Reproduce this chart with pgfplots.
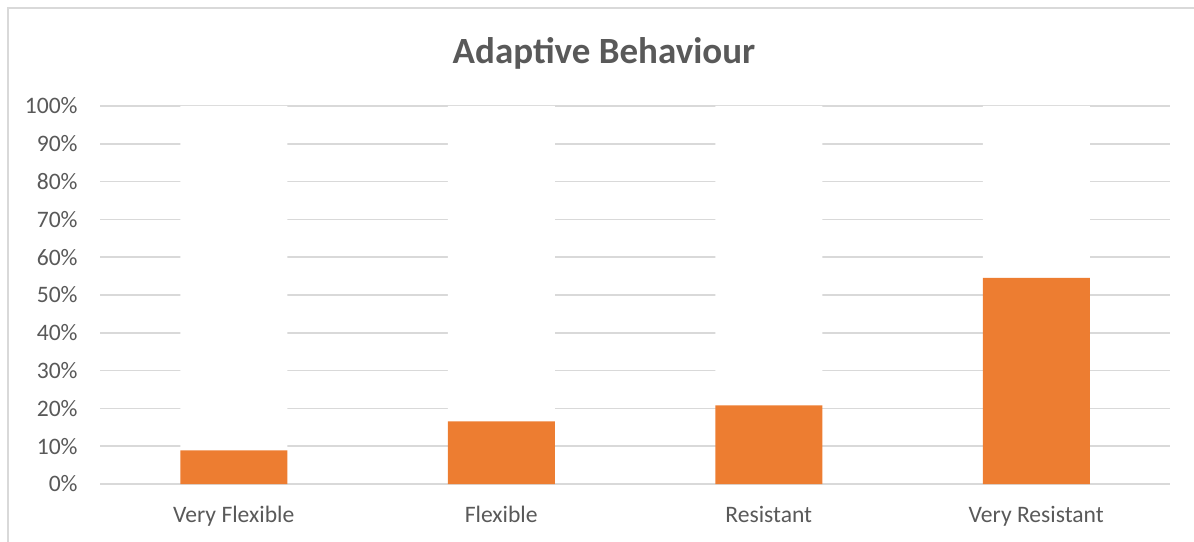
\documentclass[border=0pt]{standalone}
\usepackage{pgfplots}
\pgfplotsset{compat=1.18}
\usepackage{fontspec}
\setmainfont{Carlito}
\definecolor{barorange}{HTML}{ED7D31}
\definecolor{txtgray}{HTML}{595959}
\definecolor{gridgray}{HTML}{D9D9D9}
\begin{document}
\begin{tikzpicture}
\useasboundingbox (0,0) rectangle (597bp,271bp);
\draw[gridgray, line width=0.8bp] (4bp,-10bp) rectangle (610bp,267bp);
\node[anchor=base, text=txtgray, font=\fontsize{18.5bp}{22bp}\selectfont\bfseries] at (302bp,239.2bp) {Adaptive Behaviour};
\begin{axis}[
  at={(50bp,29bp)}, anchor=south west,
  scale only axis, width=535bp, height=189bp,
  xmin=-0.5, xmax=3.5, ymin=0, ymax=100,
  ybar stacked, bar width=53.5bp,
  axis x line=bottom, axis y line=left,
  x axis line style={gridgray, line width=0.8bp, -},
  y axis line style={draw=none},
  xtick={0,1,2,3},
  xticklabels={Very Flexible, Flexible, Resistant, Very Resistant},
  ytick={0,10,...,100},
  major tick length=0pt,
  ymajorgrids, grid style={gridgray, line width=0.8bp},
  /pgf/number format/assume math mode=true,
  tick label style={text=txtgray, font=\fontsize{11.8bp}{14bp}\selectfont},
  xticklabel style={anchor=base, yshift=-19.2bp, inner sep=0pt},
  yticklabel style={anchor=east, xshift=-11bp, inner sep=0pt},
  yticklabel={\pgfmathprintnumber{\tick}\%},
  clip=false,
]
\addplot[fill=barorange, draw=none] coordinates {(0,8.9) (1,16.6) (2,20.8) (3,54.5)};
\addplot[fill=white, draw=none] coordinates {(0,91.1) (1,83.4) (2,79.2) (3,45.5)};
\end{axis}
\end{tikzpicture}
\end{document}
